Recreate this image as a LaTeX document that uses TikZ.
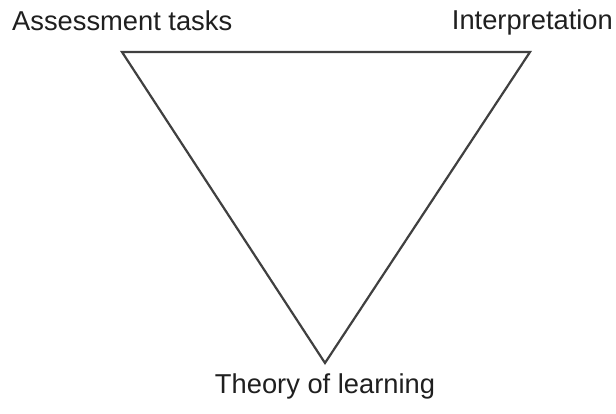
\documentclass[tikz,border=0pt]{standalone}
\usepackage{fontspec}
\setmainfont{Liberation Sans}
\begin{document}
\begin{tikzpicture}[x=1pt,y=-1pt,
  label text/.style={inner sep=0pt, text=black!88, font=\fontsize{27.3}{32}\selectfont},
  edge line/.style={draw=black!75, line width=2.2pt, line join=miter}]
  \useasboundingbox[fill=white] (0,0) rectangle (616,414);
  % corners of the triangle
  \coordinate (tasks) at (122,52);
  \coordinate (interp) at (530,52);
  \coordinate (theory) at (325,363);
  % triangle
  \draw[edge line] (tasks) -- (interp) -- (theory) -- cycle;
  % corner labels
  \node[label text, anchor=base west] (tasksL) at (12,31) {Assessment tasks};
  \node[label text, anchor=base east] (interpL) at (613,30) {Interpretation};
  \node[label text, anchor=base] (theoryL) at (325,393) {Theory of learning};
\end{tikzpicture}
\end{document}
